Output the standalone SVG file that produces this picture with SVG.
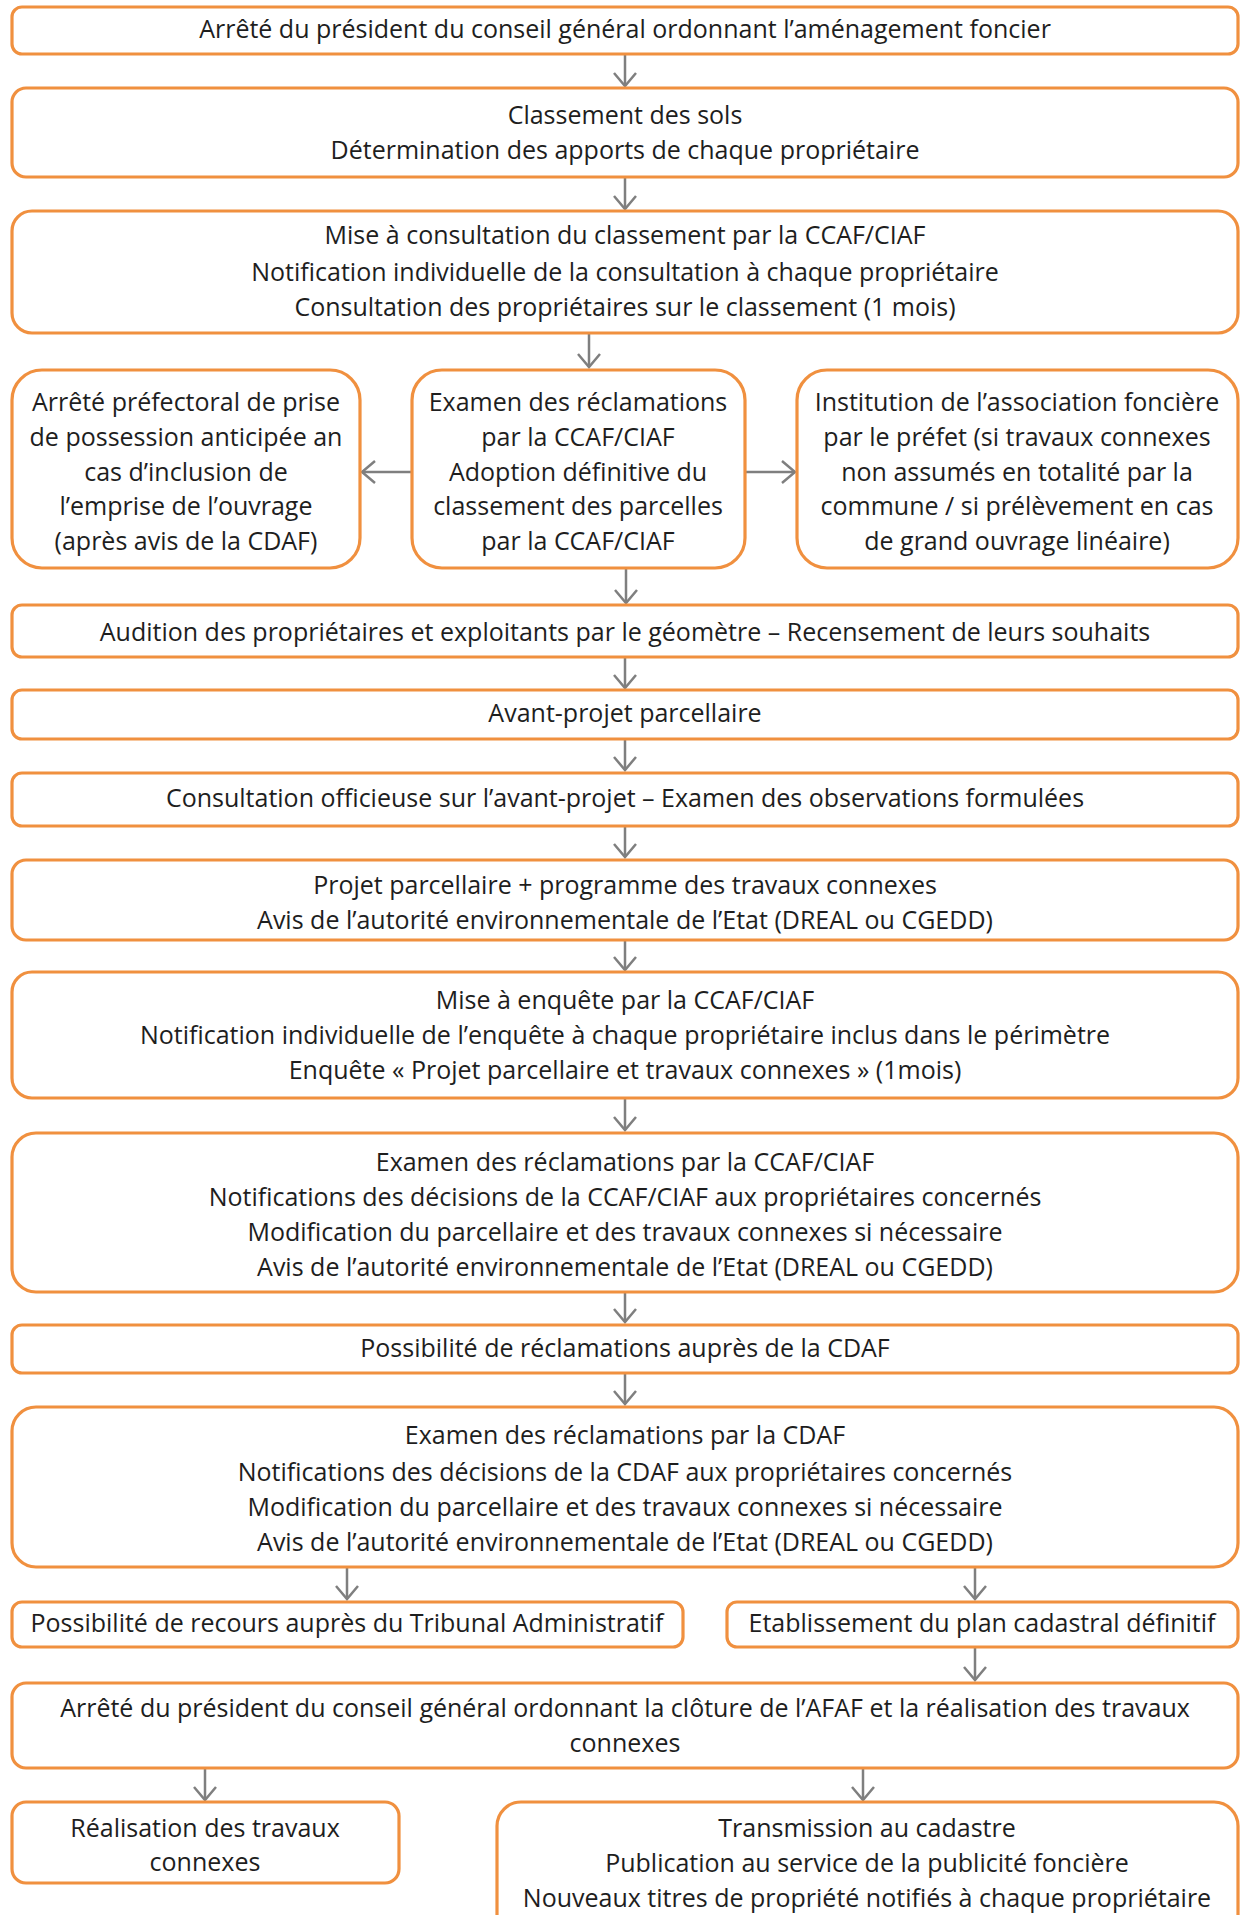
<svg xmlns="http://www.w3.org/2000/svg" width="1247" height="1915" viewBox="0 0 1247 1915">
<style>
.box{fill:#fff;stroke:#F0903F;stroke-width:3.2}
.t{font-family:"Open Sans","Liberation Sans",sans-serif;font-size:25px;fill:#1e1e1e;text-anchor:middle}
.c{stroke:#7F7F7F;stroke-width:2.5;fill:none}
</style>
<defs>
<marker id="ah" viewBox="0 0 14 22" refX="13" refY="11" markerWidth="14" markerHeight="22" markerUnits="userSpaceOnUse" orient="auto" overflow="visible">
<path d="M0,0 L13,11 L0,22" fill="none" stroke="#7F7F7F" stroke-width="2.5"/>
</marker>
</defs>
<rect width="1247" height="1915" fill="#fff"/>
<g id="connectors">
<line class="c" x1="625" y1="54" x2="625" y2="86" marker-end="url(#ah)"/>
<line class="c" x1="625" y1="177" x2="625" y2="209" marker-end="url(#ah)"/>
<line class="c" x1="589" y1="333" x2="589" y2="367" marker-end="url(#ah)"/>
<line class="c" x1="412" y1="472" x2="362" y2="472" marker-end="url(#ah)"/>
<line class="c" x1="745" y1="472" x2="795" y2="472" marker-end="url(#ah)"/>
<line class="c" x1="626" y1="568" x2="626" y2="603" marker-end="url(#ah)"/>
<line class="c" x1="625" y1="657" x2="625" y2="688" marker-end="url(#ah)"/>
<line class="c" x1="625" y1="739" x2="625" y2="770" marker-end="url(#ah)"/>
<line class="c" x1="625" y1="826" x2="625" y2="857" marker-end="url(#ah)"/>
<line class="c" x1="625" y1="940" x2="625" y2="970" marker-end="url(#ah)"/>
<line class="c" x1="625" y1="1098" x2="625" y2="1130" marker-end="url(#ah)"/>
<line class="c" x1="625" y1="1292" x2="625" y2="1322" marker-end="url(#ah)"/>
<line class="c" x1="625" y1="1373" x2="625" y2="1404" marker-end="url(#ah)"/>
<line class="c" x1="347" y1="1567" x2="347" y2="1599" marker-end="url(#ah)"/>
<line class="c" x1="975" y1="1567" x2="975" y2="1599" marker-end="url(#ah)"/>
<line class="c" x1="975" y1="1647" x2="975" y2="1680" marker-end="url(#ah)"/>
<line class="c" x1="205" y1="1768" x2="205" y2="1800" marker-end="url(#ah)"/>
<line class="c" x1="863" y1="1768" x2="863" y2="1800" marker-end="url(#ah)"/>
</g>
<g id="n1"><rect class="box" x="12" y="7" width="1226" height="47" rx="10"/>
<text class="t" x="625" y="38">Arrêté du président du conseil général ordonnant l’aménagement foncier</text></g>
<g id="n2"><rect class="box" x="12" y="88" width="1226" height="89" rx="14"/>
<text class="t" x="625" y="124">Classement des sols</text>
<text class="t" x="625" y="159">Détermination des apports de chaque propriétaire</text></g>
<g id="n3"><rect class="box" x="12" y="211" width="1226" height="122" rx="20"/>
<text class="t" x="625" y="244">Mise à consultation du classement par la CCAF/CIAF</text>
<text class="t" x="625" y="281">Notification individuelle de la consultation à chaque propriétaire</text>
<text class="t" x="625" y="316">Consultation des propriétaires sur le classement (1 mois)</text></g>
<g id="n4"><rect class="box" x="12" y="370" width="348" height="198" rx="30"/>
<text class="t" x="186" y="411">Arrêté préfectoral de prise</text>
<text class="t" x="186" y="446">de possession anticipée an</text>
<text class="t" x="186" y="481">cas d’inclusion de</text>
<text class="t" x="186" y="515">l’emprise de l’ouvrage</text>
<text class="t" x="186" y="550">(après avis de la CDAF)</text></g>
<g id="n5"><rect class="box" x="412" y="370" width="333" height="198" rx="30"/>
<text class="t" x="578" y="411">Examen des réclamations</text>
<text class="t" x="578" y="446">par la CCAF/CIAF</text>
<text class="t" x="578" y="481">Adoption définitive du</text>
<text class="t" x="578" y="515">classement des parcelles</text>
<text class="t" x="578" y="550">par la CCAF/CIAF</text></g>
<g id="n6"><rect class="box" x="797" y="370" width="441" height="198" rx="30"/>
<text class="t" x="1017" y="411">Institution de l’association foncière</text>
<text class="t" x="1017" y="446">par le préfet (si travaux connexes</text>
<text class="t" x="1017" y="481">non assumés en totalité par la</text>
<text class="t" x="1017" y="515">commune / si prélèvement en cas</text>
<text class="t" x="1017" y="550">de grand ouvrage linéaire)</text></g>
<g id="n7"><rect class="box" x="12" y="605" width="1226" height="52" rx="10"/>
<text class="t" x="625" y="641">Audition des propriétaires et exploitants par le géomètre – Recensement de leurs souhaits</text></g>
<g id="n8"><rect class="box" x="12" y="690" width="1226" height="49" rx="10"/>
<text class="t" x="625" y="722">Avant-projet parcellaire</text></g>
<g id="n9"><rect class="box" x="12" y="773" width="1226" height="53" rx="10"/>
<text class="t" x="625" y="807">Consultation officieuse sur l’avant-projet – Examen des observations formulées</text></g>
<g id="n10"><rect class="box" x="12" y="860" width="1226" height="80" rx="14"/>
<text class="t" x="625" y="894">Projet parcellaire + programme des travaux connexes</text>
<text class="t" x="625" y="929">Avis de l’autorité environnementale de l’Etat (DREAL ou CGEDD)</text></g>
<g id="n11"><rect class="box" x="12" y="972" width="1226" height="126" rx="20"/>
<text class="t" x="625" y="1009">Mise à enquête par la CCAF/CIAF</text>
<text class="t" x="625" y="1044">Notification individuelle de l’enquête à chaque propriétaire inclus dans le périmètre</text>
<text class="t" x="625" y="1079">Enquête « Projet parcellaire et travaux connexes » (1mois)</text></g>
<g id="n12"><rect class="box" x="12" y="1133" width="1226" height="159" rx="24"/>
<text class="t" x="625" y="1171">Examen des réclamations par la CCAF/CIAF</text>
<text class="t" x="625" y="1206">Notifications des décisions de la CCAF/CIAF aux propriétaires concernés</text>
<text class="t" x="625" y="1241">Modification du parcellaire et des travaux connexes si nécessaire</text>
<text class="t" x="625" y="1276">Avis de l’autorité environnementale de l’Etat (DREAL ou CGEDD)</text></g>
<g id="n13"><rect class="box" x="12" y="1325" width="1226" height="48" rx="10"/>
<text class="t" x="625" y="1357">Possibilité de réclamations auprès de la CDAF</text></g>
<g id="n14"><rect class="box" x="12" y="1407" width="1226" height="160" rx="24"/>
<text class="t" x="625" y="1444">Examen des réclamations par la CDAF</text>
<text class="t" x="625" y="1481">Notifications des décisions de la CDAF aux propriétaires concernés</text>
<text class="t" x="625" y="1516">Modification du parcellaire et des travaux connexes si nécessaire</text>
<text class="t" x="625" y="1551">Avis de l’autorité environnementale de l’Etat (DREAL ou CGEDD)</text></g>
<g id="n15"><rect class="box" x="12" y="1602" width="671" height="45" rx="10"/>
<text class="t" x="347" y="1632">Possibilité de recours auprès du Tribunal Administratif</text></g>
<g id="n16"><rect class="box" x="727" y="1602" width="511" height="45" rx="10"/>
<text class="t" x="982" y="1632">Etablissement du plan cadastral définitif</text></g>
<g id="n17"><rect class="box" x="12" y="1683" width="1226" height="85" rx="14"/>
<text class="t" x="625" y="1717">Arrêté du président du conseil général ordonnant la clôture de l’AFAF et la réalisation des travaux</text>
<text class="t" x="625" y="1752">connexes</text></g>
<g id="n18"><rect class="box" x="12" y="1802" width="387" height="81" rx="14"/>
<text class="t" x="205" y="1837">Réalisation des travaux</text>
<text class="t" x="205" y="1871">connexes</text></g>
<g id="n19"><rect class="box" x="497" y="1802" width="741" height="140" rx="24"/>
<text class="t" x="867" y="1837">Transmission au cadastre</text>
<text class="t" x="867" y="1872">Publication au service de la publicité foncière</text>
<text class="t" x="867" y="1907">Nouveaux titres de propriété notifiés à chaque propriétaire</text></g>
</svg>
